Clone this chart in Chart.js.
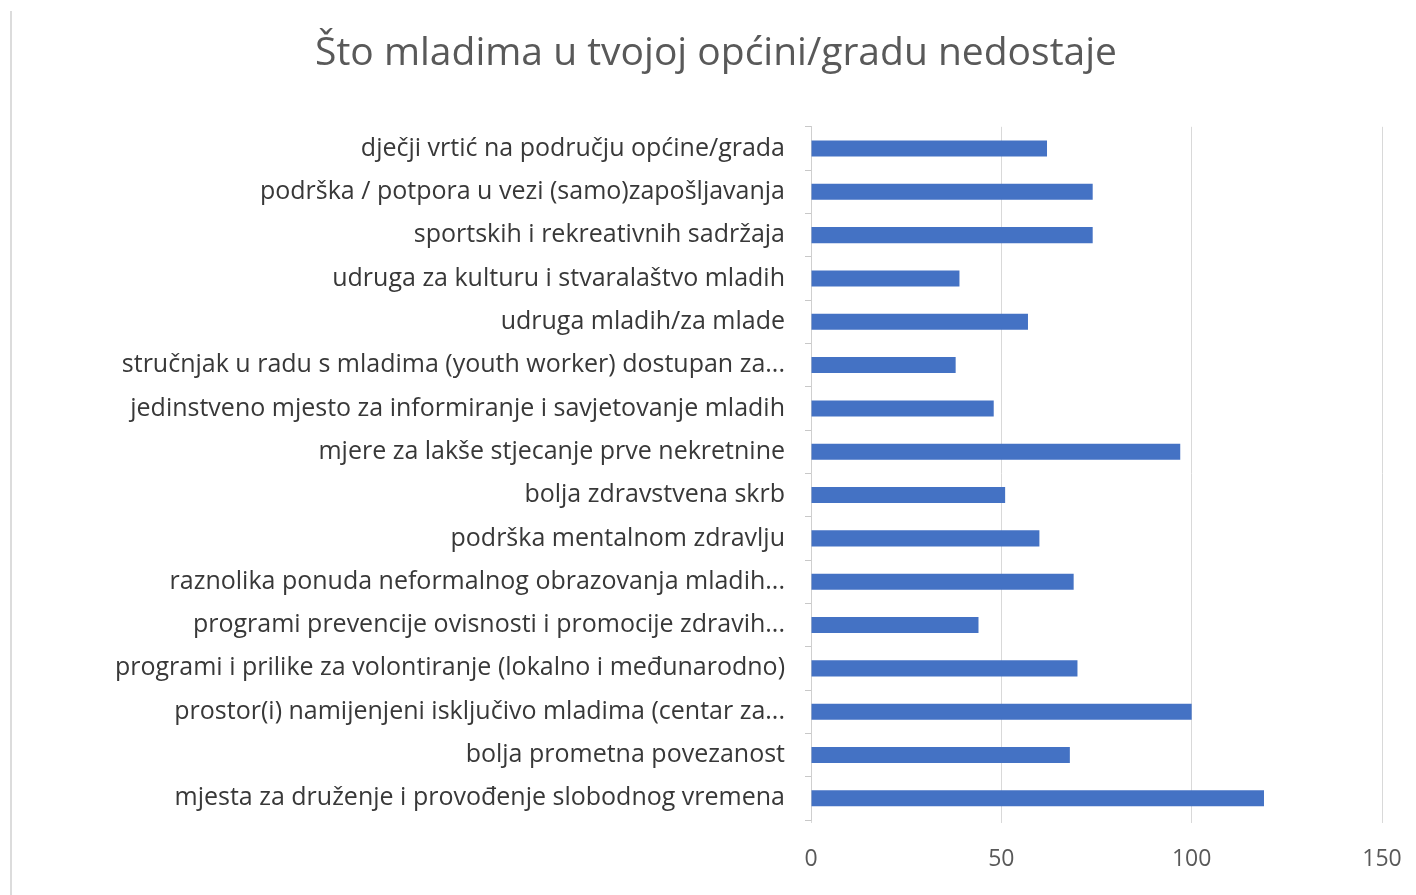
<!DOCTYPE html>
<html>
<head>
<meta charset="utf-8">
<script src="https://cdn.jsdelivr.net/npm/chart.js@4/dist/chart.umd.min.js"></script>
<style>
  html, body { margin:0; padding:0; background:#fff; }
  #wrap { position:relative; width:1416px; height:895px; }
  #edge { position:absolute; left:10px; top:11px; width:2px; height:884px; background:#dcdcdc; }
</style>
</head>
<body>
<div id="wrap">
  <div id="edge"></div>
  <canvas id="chart" width="1416" height="895"></canvas>
</div>
<script>
// ── Data ─────────────────────────────────────────────
const chartTitle = 'Što mladima u tvojoj općini/gradu nedostaje';

const categories = [
  'dječji vrtić na području općine/grada',
  'podrška / potpora u vezi (samo)zapošljavanja',
  'sportskih i rekreativnih sadržaja',
  'udruga za kulturu i stvaralaštvo mladih',
  'udruga mladih/za mlade',
  'stručnjak u radu s mladima (youth worker) dostupan za...',
  'jedinstveno mjesto za informiranje i savjetovanje mladih',
  'mjere za lakše stjecanje prve nekretnine',
  'bolja zdravstvena skrb',
  'podrška mentalnom zdravlju',
  'raznolika ponuda neformalnog obrazovanja mladih...',
  'programi prevencije ovisnosti i promocije zdravih...',
  'programi i prilike za volontiranje (lokalno i međunarodno)',
  'prostor(i) namijenjeni isključivo mladima (centar za...',
  'bolja prometna povezanost',
  'mjesta za druženje i provođenje slobodnog vremena'
];

const counts = [62, 74, 74, 39, 57, 38, 48, 97, 51, 60, 69, 44, 70, 100, 68, 119];

const xMin = 0;
const xMax = 150;
const xStep = 50;

// ── Chart ────────────────────────────────────────────
const FONT = '"Open Sans", Calibri, sans-serif';
const PAD_LEFT = 50;

new Chart(document.getElementById('chart'), {
  type: 'bar',
  data: {
    labels: categories,
    datasets: [{
      data: counts,
      backgroundColor: '#4472C4',
      borderWidth: 0,
      barPercentage: 0.74,
      categoryPercentage: 0.5,
    }]
  },
  options: {
    indexAxis: 'y',
    responsive: false,
    animation: false,
    layout: { padding: { left: PAD_LEFT, right: 34, top: 0, bottom: 0 } },
    plugins: {
      legend: { display: false },
      tooltip: { enabled: false },
      title: {
        display: true,
        text: chartTitle,
        color: '#595959',
        font: { family: FONT, size: 39, weight: 'normal', lineHeight: 1.2 },
        padding: { top: 30, bottom: 50 },
      }
    },
    scales: {
      y: {
        afterFit: (scale) => { scale.width = 811 - PAD_LEFT; },
        grid: {
          offset: true,
          drawOnChartArea: false,
          drawTicks: true,
          tickLength: 6,
          color: '#c8c8c8',
        },
        border: { display: true, color: '#cfcfcf', width: 1 },
        ticks: {
          color: '#383838',
          padding: 20,
          autoSkip: false,
          font: { family: FONT, size: 25 },
        }
      },
      x: {
        min: xMin,
        max: xMax,
        afterFit: (scale) => {
          scale.height = 75;
          scale.paddingLeft = 0;
          scale.paddingRight = 0;
        },
        grid: { color: '#d9d9d9', tickLength: 3 },
        border: { display: false },
        ticks: {
          stepSize: xStep,
          color: '#595959',
          padding: 23,
          font: { family: FONT, size: 23 },
        }
      }
    }
  }
});
</script>
</body>
</html>
